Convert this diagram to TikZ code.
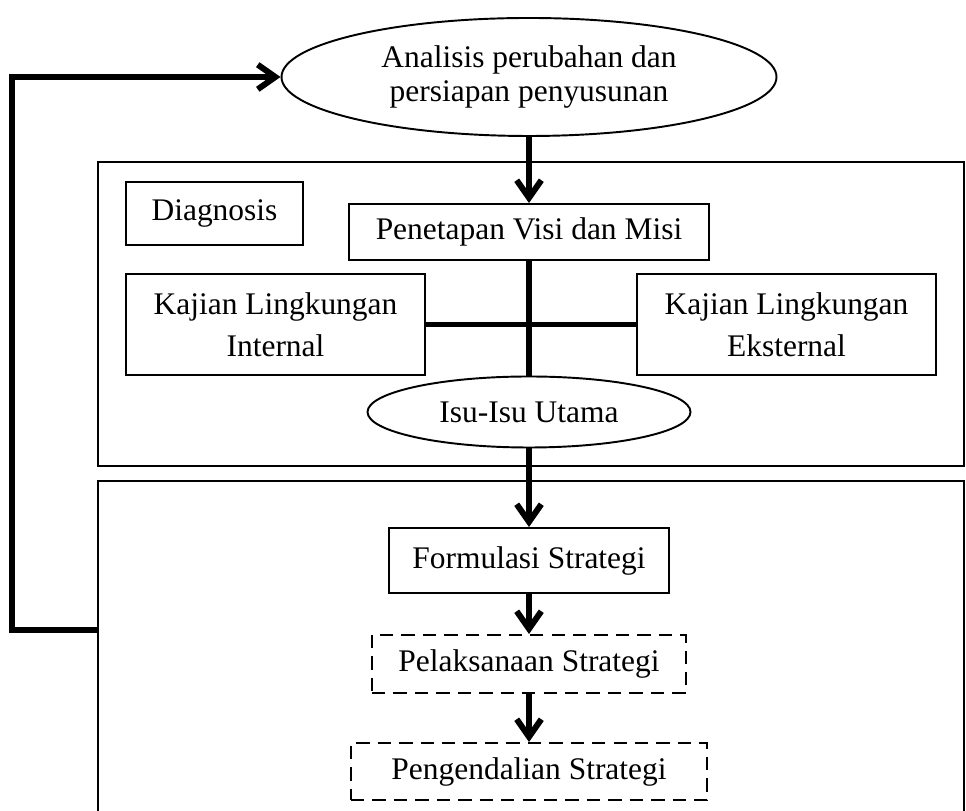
\documentclass[tikz,border=0pt]{standalone}
\usepackage{fontspec}
\setmainfont{Liberation Serif}
\usetikzlibrary{arrows.meta, shapes.geometric}
\tikzset{txt/.style={font=\fontsize{17.9}{19.9}\selectfont, align=center, inner sep=0pt}}
\tikzset{box/.style={txt, draw, line width=1.1pt, rectangle}}
\tikzset{widebox/.style={box, font=\fontsize{17.9}{23.8}\selectfont}}
\tikzset{dbox/.style={box, dash pattern=on 7.6pt off 4.6pt}}
\tikzset{oval/.style={txt, draw, line width=1.1pt, ellipse}}
\tikzset{frame/.style={draw, line width=1.1pt, inner sep=0pt}}
\tikzset{heavy/.style={line width=3.4pt}}
\tikzset{flow/.style={line width=3.4pt, -{Straight Barb[length=10pt, width=14pt]}}}

\begin{document}
\begin{tikzpicture}
\useasboundingbox (0,0) rectangle (19.32,16.2);
\clip (0,0) rectangle (19.32,16.2);
\node[frame, minimum width=17.32cm, minimum height=6.08cm] (diagframe) at (10.62,9.92) {};
\node[frame, minimum width=17.32cm, minimum height=7.4cm] (stratframe) at (10.62,2.88) {};
\node[oval, minimum width=9.9cm, minimum height=2.36cm] (analisis) at (10.58,14.66) {Analisis perubahan dan\\persiapan penyusunan};
\node[box, minimum width=3.54cm, minimum height=1.26cm] (diagnosis) at (4.29,11.93) {Diagnosis};
\node[box, minimum width=7.2cm, minimum height=1.12cm] (visimisi) at (10.58,11.56) {Penetapan Visi dan Misi};
\node[widebox, minimum width=5.98cm, minimum height=2.02cm] (internal) at (5.51,9.71) {Kajian Lingkungan\\Internal};
\node[widebox, minimum width=5.98cm, minimum height=2.02cm] (eksternal) at (15.73,9.71) {Kajian Lingkungan\\Eksternal};
\node[oval, minimum width=6.46cm, minimum height=1.42cm] (isu) at (10.58,7.96) {Isu-Isu Utama};
\node[box, minimum width=5.6cm, minimum height=1.3cm] (formulasi) at (10.58,4.99) {Formulasi Strategi};
\node[dbox, minimum width=6.28cm, minimum height=1.16cm] (pelaksanaan) at (10.58,2.92) {Pelaksanaan Strategi};
\node[dbox, minimum width=7.12cm, minimum height=1.14cm] (pengendalian) at (10.58,0.77) {Pengendalian Strategi};
\draw[flow] (analisis) -- (visimisi);
\draw[heavy] (visimisi) -- (isu);
\draw[heavy] (internal) -- (eksternal);
\draw[flow] (isu) -- (formulasi);
\draw[flow] (formulasi) -- (pelaksanaan);
\draw[flow] (pelaksanaan) -- (pengendalian);
\coordinate (fb) at (1.96,3.6);
\draw[flow] (fb) -- ++(-1.72,0) |- (analisis.west);
\end{tikzpicture}
\end{document}
